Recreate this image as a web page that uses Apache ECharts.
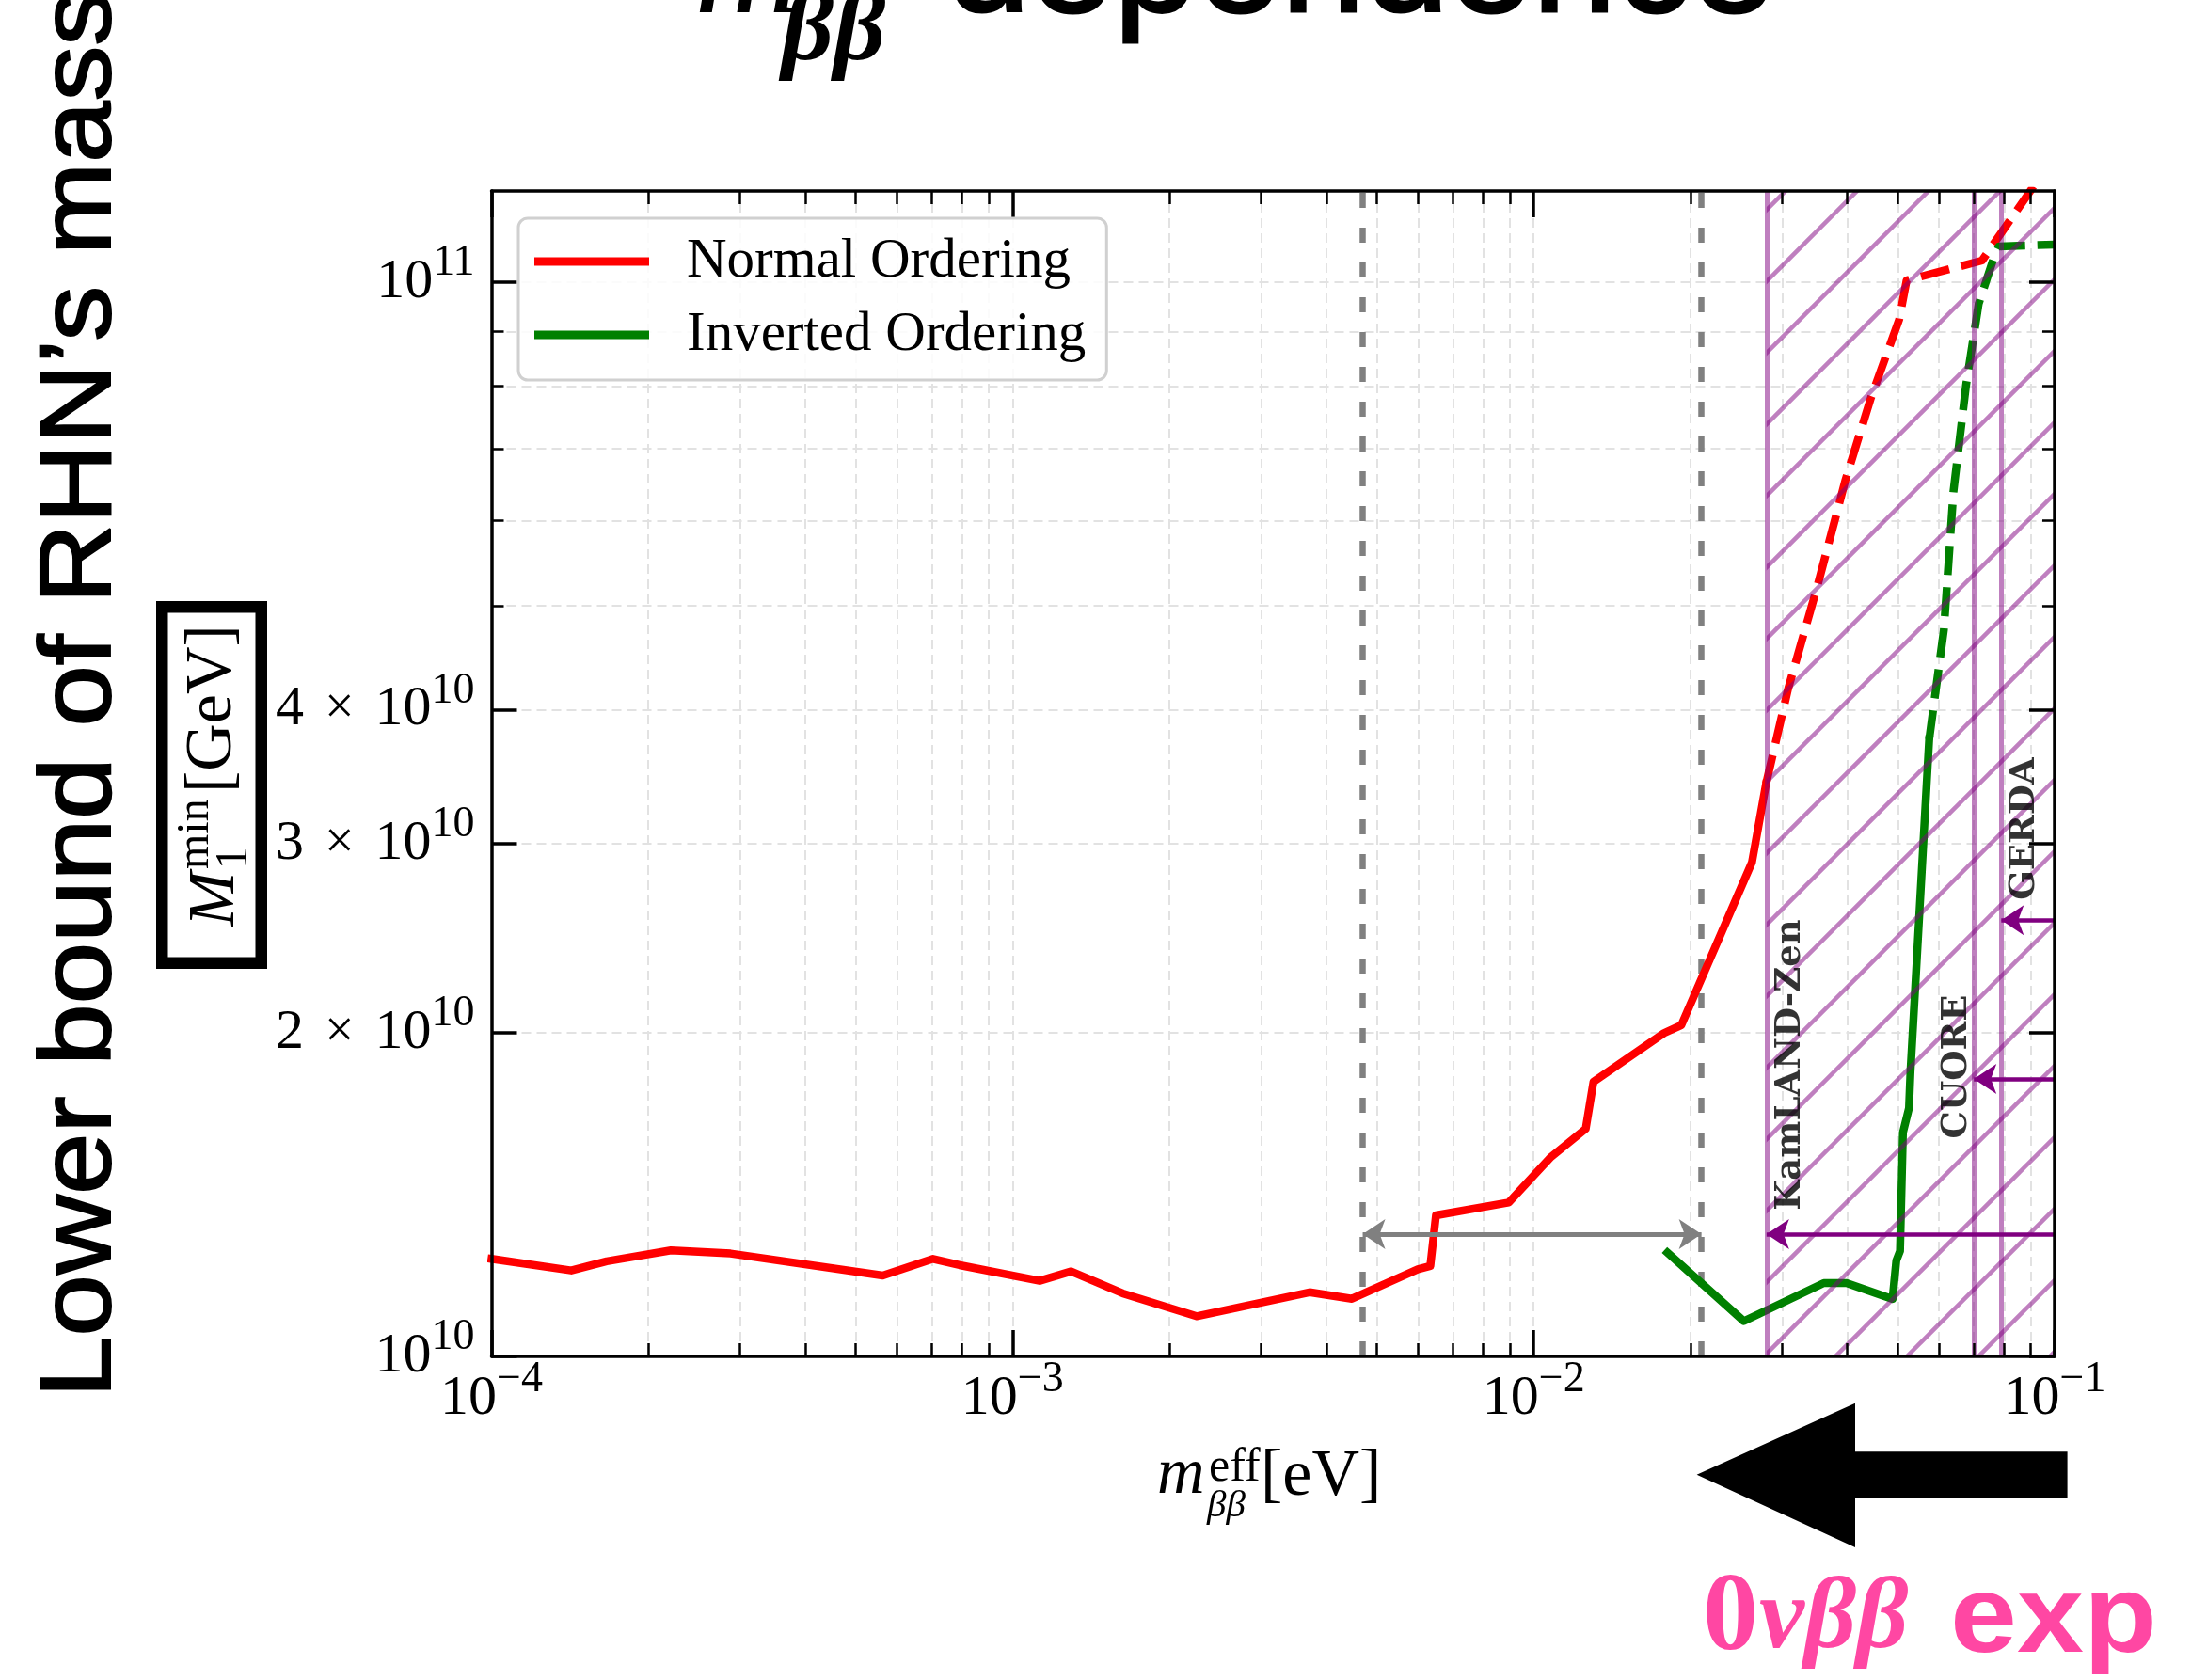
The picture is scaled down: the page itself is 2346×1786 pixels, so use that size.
<!DOCTYPE html>
<html>
<head>
<meta charset="utf-8">
<script src="https://cdn.jsdelivr.net/npm/echarts@6/dist/echarts.min.js"></script>
<style>
  html, body { margin: 0; padding: 0; background: #ffffff; }
  #chart { width: 2346px; height: 1786px; }
</style>
</head>
<body>
<div id="chart"></div>
<script>
// ---- Normal ordering: lower bound of M1 vs effective Majorana mass ----
const noSolidMbb = [1.0e-4, 1.422e-4, 1.663e-4, 2.21e-4, 2.876e-4, 5.635e-4, 7.036e-4, 7.914e-4,
  1.127e-3, 1.295e-3, 1.627e-3, 2.255e-3, 3.715e-3, 4.48e-3, 5.995e-3, 6.335e-3, 6.496e-3,
  8.96e-3, 1.080e-2, 1.259e-2, 1.303e-2, 1.780e-2, 1.921e-2, 2.625e-2, 2.794e-2];
const noSolidM1 = [1.2325e10, 1.2023e10, 1.2261e10, 1.2554e10, 1.2468e10, 1.1893e10, 1.2325e10, 1.2161e10,
  1.1758e10, 1.1998e10, 1.1448e10, 1.0899e10, 1.1474e10, 1.1316e10, 1.2055e10, 1.2138e10, 1.3532e10,
  1.3909e10, 1.5335e10, 1.6292e10, 1.8017e10, 2.0e10, 2.0339e10, 2.884e10, 3.413e10];
// excluded part (dashed)
const noDashMbb = [2.794e-2, 3.078e-2, 3.5e-2, 3.97e-2, 4.44e-2, 5.03e-2, 5.20e-2, 7.255e-2, 8.93e-2, 0.1];
const noDashM1 = [3.413e10, 4.178e10, 5.2e10, 6.55e10, 7.805e10, 9.228e10, 1.0042e11, 1.0476e11, 1.2110e11, 1.3134e11];

// ---- Inverted ordering ----
const ioSolidMbb = [1.807e-2, 2.532e-2, 3.606e-2, 3.986e-2, 4.886e-2, 4.969e-2, 5.05e-2, 5.116e-2, 5.255e-2, 5.288e-2, 5.745e-2];
const ioSolidM1 = [1.2490e10, 1.0785e10, 1.1703e10, 1.1703e10, 1.1309e10, 1.2285e10, 1.2533e10, 1.6160e10, 1.7026e10, 1.8385e10, 3.7536e10];
const ioDashMbb = [5.745e-2, 6.13e-2, 6.394e-2, 6.76e-2, 7.15e-2, 7.656e-2, 7.816e-2, 0.1];
const ioDashM1 = [3.7536e10, 4.745e10, 6.378e10, 8.012e10, 9.550e10, 1.0561e11, 1.0799e11, 1.0842e11];

// ---- axes ----
const xRange = [1e-4, 0.1];
const yRange = [1e10, 1.2162e11];
const xMajorTicks = [1e-4, 1e-3, 1e-2, 1e-1];
const xDecades = [1e-4, 1e-3, 1e-2];
const minorMultipliers = [2, 3, 4, 5, 6, 7, 8, 9];
const yLabelTicks = [1e10, 2e10, 3e10, 4e10, 1e11];
const yLabelMantissa = ['', '2', '3', '4', ''];
const yLabelExponent = ['10', '10', '10', '10', '11'];
const yMinorTicks = [5e10, 6e10, 7e10, 8e10, 9e10];
const yGridValues = [2e10, 3e10, 4e10, 5e10, 6e10, 7e10, 8e10, 9e10, 1e11];

// ---- 0vbb experiments ----
const expNames = ['KamLAND-Zen', 'CUORE', 'GERDA'];
const expLimits = [0.028, 0.070, 0.079];
const expArrowM1 = [1.3e10, 1.813e10, 2.547e10];
const expLabelMbb = [0.0312, 0.0651, 0.0878];
const expLabelM1 = [1.868e10, 1.861e10, 3.099e10];
const excludedBand = [0.028, 0.1];

// future sensitivity window
const futureWindow = [4.7e-3, 2.1e-2];
const futureArrowM1 = 1.3e10;

const L10 = Math.log10;
const xMinorTicks = [];
xDecades.forEach(d => minorMultipliers.forEach(k => xMinorTicks.push(k * d)));
const xGridValues = xMinorTicks.concat([1e-3, 1e-2]);

const pairs = (xs, ys) => xs.map((x, i) => [x, ys[i]]);

// diagonal hatch tile for the excluded band
function hatchTile() {
  const s = 76, c = document.createElement('canvas');
  c.width = s; c.height = s;
  const g = c.getContext('2d');
  g.strokeStyle = 'rgba(128,0,128,0.5)';
  g.lineWidth = 4.5;
  const phase = 49;
  for (let k = -2; k <= 2; k++) {
    const d = phase + k * s;
    g.beginPath(); g.moveTo(-s, d + s); g.lineTo(2 * s, d - 2 * s); g.stroke();
  }
  return c;
}

const SERIF = '"Liberation Serif", "Times New Roman", serif';
const SANS = '"Liberation Sans", Arial, sans-serif';

const richTick = {
  b: { fontFamily: SERIF, fontSize: 60, color: '#000' },
  x: { fontFamily: SERIF, fontSize: 56, color: '#000', padding: [0, 22, 0, 22] },
  s: { fontFamily: SERIF, fontSize: 46, color: '#000', padding: [0, 0, 40, 0] }
};

function decoAxis(dim, pos, ticks, len, width, withLine, label) {
  const ext = dim === 'x' ? xRange : yRange;
  return {
    type: 'value', gridIndex: 0, position: pos, min: L10(ext[0]), max: L10(ext[1]), z: 8,
    axisLine: { show: withLine, onZero: false, lineStyle: { color: '#000', width: 3.5 } },
    axisTick: { show: true, inside: true, length: len, customValues: ticks.map(L10),
      lineStyle: { color: '#000', width: width } },
    axisLabel: label || { show: false },
    splitLine: { show: false }, minorTick: { show: false }, minorSplitLine: { show: false }
  };
}

const xLabel = {
  show: true, margin: 2, customValues: xMajorTicks.map(L10), showMinLabel: true, showMaxLabel: true,
  hideOverlap: false,
  formatter: v => '{b|10}{s|−' + Math.round(-v) + '}', rich: richTick
};
const yLabel = {
  show: true, margin: 18, customValues: yLabelTicks.map(L10), showMinLabel: true, showMaxLabel: true,
  hideOverlap: false,
  formatter: v => {
    let best = 0;
    yLabelTicks.forEach((t, i) => { if (Math.abs(L10(t) - v) < Math.abs(L10(yLabelTicks[best]) - v)) best = i; });
    const m = yLabelMantissa[best];
    return (m ? '{b|' + m + '}{x|×}' : '') + '{b|10}{s|' + yLabelExponent[best] + '}';
  },
  rich: richTick
};

const chart = echarts.init(document.getElementById('chart'), null, { renderer: 'canvas', width: 2346, height: 1786 });

const gridLineStyle = { color: '#e2e2e2', width: 2, type: [10, 6] };
const dummy = [[xRange[0], yRange[0]]];
const PINK = '#ff47a3';

const option = {
  animation: false,
  backgroundColor: '#ffffff',
  grid: { left: 522.5, top: 203, width: 1661.5, height: 1239, containLabel: false },
  xAxis: [
    { type: 'log', logBase: 10, min: xRange[0], max: xRange[1], gridIndex: 0,
      axisLine: { show: false }, axisTick: { show: false }, axisLabel: { show: false }, splitLine: { show: false } },
    decoAxis('x', 'bottom', xMajorTicks, 28, 3.5, true, xLabel),
    decoAxis('x', 'bottom', xMinorTicks, 14, 2.5, false),
    decoAxis('x', 'top', xMajorTicks, 28, 3.5, true),
    decoAxis('x', 'top', xMinorTicks, 14, 2.5, false)
  ],
  yAxis: [
    { type: 'log', logBase: 10, min: yRange[0], max: yRange[1], gridIndex: 0,
      axisLine: { show: false }, axisTick: { show: false }, axisLabel: { show: false }, splitLine: { show: false } },
    decoAxis('y', 'left', yLabelTicks, 27, 3.5, true, yLabel),
    decoAxis('y', 'left', yMinorTicks, 13, 2.5, false),
    decoAxis('y', 'right', yLabelTicks, 27, 3.5, true),
    decoAxis('y', 'right', yMinorTicks, 13, 2.5, false)
  ],
  legend: {
    data: ['Normal Ordering', 'Inverted Ordering'],
    orient: 'vertical', left: 551, top: 232,
    padding: [16, 22, 18, 17],
    itemWidth: 122, itemHeight: 9, itemGap: 18, icon: 'rect',
    backgroundColor: 'rgba(255,255,255,0.85)', borderColor: '#d0d0d0', borderWidth: 3, borderRadius: 10,
    textStyle: { fontFamily: SERIF, fontSize: 59, color: '#000', lineHeight: 60, padding: [0, 0, 0, 35] },
    selectedMode: false, z: 10
  },
  series: [
    { // background grid
      type: 'line', name: 'grid', data: dummy, showSymbol: false, lineStyle: { width: 0 },
      silent: true, z: 0,
      markLine: { silent: true, symbol: 'none', precision: 12, label: { show: false }, z: 0, animation: false,
        lineStyle: gridLineStyle,
        data: xGridValues.map(v => ({ xAxis: v })).concat(yGridValues.map(v => ({ yAxis: v }))) }
    },
    { // future sensitivity window
      type: 'line', name: 'window', data: dummy, showSymbol: false, lineStyle: { width: 0 },
      silent: true, z: 1,
      markLine: { silent: true, symbol: 'none', precision: 12, label: { show: false }, z: 1, animation: false,
        lineStyle: { color: '#808080', width: 6.5, type: [16, 21] },
        data: futureWindow.map(v => ({ xAxis: v })) }
    },
    { // sensitivity window arrow
      type: 'line', name: 'windowArrow', data: dummy, showSymbol: false, lineStyle: { width: 0 },
      silent: true, z: 4,
      markLine: { silent: true, symbol: ['arrow', 'arrow'], symbolSize: 24, precision: 12, label: { show: false }, z: 4, animation: false,
        lineStyle: { color: '#808080', width: 5, type: 'solid' },
        data: [[{ coord: [futureWindow[0], futureArrowM1] }, { coord: [futureWindow[1], futureArrowM1] }]] }
    },
    {
      type: 'line', name: 'Normal Ordering', data: pairs(noSolidMbb, noSolidM1), color: '#ff0000',
      showSymbol: false, symbol: 'none', z: 3, clip: true,
      lineStyle: { color: '#ff0000', width: 8.5, join: 'round', cap: 'square' }
    },
    {
      type: 'line', name: 'Normal Ordering (excluded)', data: pairs(noDashMbb, noDashM1), color: '#ff0000',
      showSymbol: false, symbol: 'none', z: 3, clip: true,
      lineStyle: { color: '#ff0000', width: 8.5, type: [31, 13], join: 'round', cap: 'butt' }
    },
    {
      type: 'line', name: 'Inverted Ordering', data: pairs(ioSolidMbb, ioSolidM1), color: '#008000',
      showSymbol: false, symbol: 'none', z: 3, clip: true,
      lineStyle: { color: '#008000', width: 8.5, join: 'round', cap: 'square' }
    },
    {
      type: 'line', name: 'Inverted Ordering (excluded)', data: pairs(ioDashMbb, ioDashM1), color: '#008000',
      showSymbol: false, symbol: 'none', z: 3, clip: true,
      lineStyle: { color: '#008000', width: 8.5, type: [31, 13], join: 'round', cap: 'butt' }
    },
    { // excluded band and experiment bounds
      type: 'line', name: 'experiments', data: dummy, showSymbol: false, lineStyle: { width: 0 },
      silent: true, z: 5,
      markArea: { silent: true, z: 5, animation: false,
        itemStyle: { color: { image: hatchTile(), repeat: 'repeat' }, opacity: 1, borderWidth: 0 },
        data: [[{ xAxis: excludedBand[0] }, { xAxis: excludedBand[1] }]] },
      markLine: { silent: true, symbol: 'none', precision: 12, label: { show: false }, z: 5, animation: false,
        lineStyle: { color: 'rgba(128,0,128,0.5)', width: 5, type: 'solid' },
        data: expLimits.map(v => ({ xAxis: v })) }
    },
    {
      type: 'line', name: 'expArrows', data: dummy, showSymbol: false, lineStyle: { width: 0 },
      silent: true, z: 6,
      markLine: { silent: true, symbol: ['none', 'arrow'], symbolSize: 24, precision: 12, label: { show: false }, z: 6, animation: false,
        lineStyle: { color: '#800080', width: 4.5, type: 'solid' },
        data: expLimits.map((v, i) => [{ coord: [xRange[1], expArrowM1[i]] }, { coord: [v, expArrowM1[i]] }]) }
    },
    {
      type: 'scatter', name: 'expLabels', silent: true, z: 7,
      data: expNames.map((n, i) => ({ name: n, value: [expLabelMbb[i], expLabelM1[i]] })),
      symbolSize: 1, itemStyle: { color: 'rgba(0,0,0,0)' },
      label: { show: true, position: 'inside', rotate: 90, formatter: '{b}',
        fontFamily: '"DejaVu Serif", serif', fontWeight: 'bold', fontSize: 37, color: '#000' }
    }
  ],
  graphic: [
    // title (runs off the top edge)
    { type: 'text', x: 738, y: -29, z: 20, style: { text: 'm', font: 'italic 160px ' + SERIF, fill: '#000', verticalAlign: 'middle' } },
    { type: 'text', x: 831, y: 35, z: 20, style: { text: 'ββ', font: 'italic bold 108px ' + SERIF, fill: '#000', verticalAlign: 'middle' } },
    { type: 'text', x: 1006, y: -32, z: 20, style: { text: 'dependence', font: '160px ' + SANS, fill: '#000',
      stroke: '#000', lineWidth: 3, verticalAlign: 'middle' } },
    // left title
    { type: 'text', x: 87.5, y: 1486, rotation: Math.PI / 2, scaleX: 1.09, z: 20,
      style: { text: 'Lower bound of RHN’s mass', font: '108px ' + SANS, fill: '#000', stroke: '#000', lineWidth: 2,
        verticalAlign: 'middle', align: 'left' } },
    // boxed axis label
    { type: 'rect', z: 20, shape: { x: 172.25, y: 645.25, width: 105.5, height: 378.5 },
      style: { fill: 'none', stroke: '#000', lineWidth: 12.5 } },
    { type: 'text', x: 229.4, y: 985, rotation: Math.PI / 2, z: 20,
      style: { text: 'M', font: 'italic 70px ' + SERIF, fill: '#000', verticalAlign: 'middle' } },
    { type: 'text', x: 249.8, y: 924, rotation: Math.PI / 2, z: 20,
      style: { text: '1', font: '48px ' + SERIF, fill: '#000', verticalAlign: 'middle' } },
    { type: 'text', x: 208.8, y: 924, rotation: Math.PI / 2, z: 20,
      style: { text: 'min', font: '48px ' + SERIF, fill: '#000', verticalAlign: 'middle' } },
    { type: 'text', x: 226.4, y: 843, rotation: Math.PI / 2, z: 20,
      style: { text: '[GeV]', font: '70px ' + SERIF, fill: '#000', verticalAlign: 'middle' } },
    // x axis title
    { type: 'text', x: 1230, y: 1569, z: 20, style: { text: 'm', font: 'italic 70px ' + SERIF, fill: '#000', verticalAlign: 'middle' } },
    { type: 'text', x: 1285, y: 1561, z: 20, style: { text: 'eff', font: '50px ' + SERIF, fill: '#000', verticalAlign: 'middle' } },
    { type: 'text', x: 1283, y: 1601, z: 20, style: { text: 'ββ', font: 'italic 41px ' + SERIF, fill: '#000', verticalAlign: 'middle' } },
    { type: 'text', x: 1340, y: 1571, z: 20, style: { text: '[eV]', font: '70px ' + SERIF, fill: '#000', verticalAlign: 'middle' } },
    // big arrow toward smaller effective mass
    { type: 'polygon', z: 20, shape: { points: [[1803.6, 1567.7], [1972, 1491.7], [1972, 1543.3], [2197.6, 1543.3],
      [2197.6, 1592.3], [1972, 1592.3], [1972, 1645]] }, style: { fill: '#000' } },
    { type: 'text', x: 1810, y: 1723, z: 20, style: { text: '0', font: 'bold 118px ' + SERIF, fill: PINK, verticalAlign: 'middle' } },
    { type: 'text', x: 1870, y: 1723, z: 20, style: { text: 'νββ', font: 'italic bold 108px ' + SERIF, fill: PINK, verticalAlign: 'middle' } },
    { type: 'text', x: 2073, y: 1724, scaleX: 1.1, z: 20, style: { text: 'exp', font: 'bold 116px ' + SANS, fill: PINK, verticalAlign: 'middle' } }
  ]
};

chart.setOption(option);
</script>
</body>
</html>
